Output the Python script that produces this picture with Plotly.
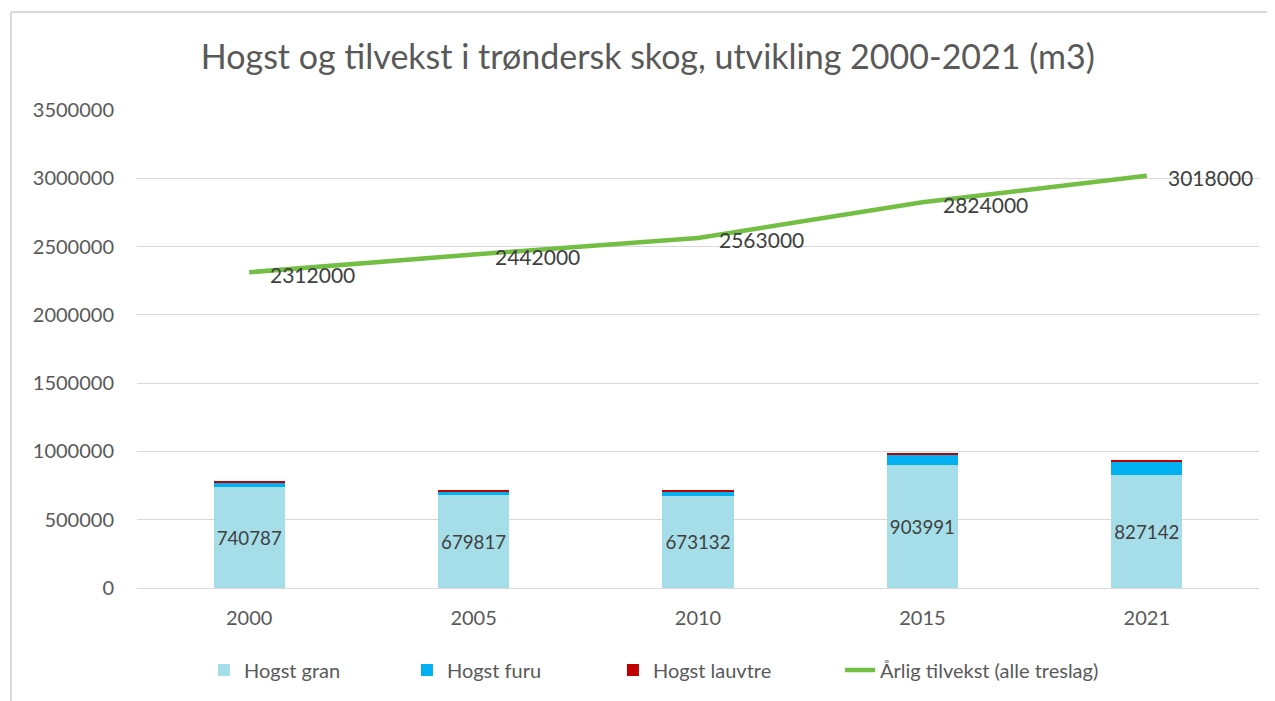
import plotly.graph_objects as go

years = ["2000", "2005", "2010", "2015", "2021"]
hogst_gran = [740787, 679817, 673132, 903991, 827142]
hogst_furu = [29000, 25000, 32000, 71000, 97000]
hogst_lauvtre = [15000, 12000, 12000, 14000, 12000]
tilvekst = [2312000, 2442000, 2563000, 2824000, 3018000]

FONT = "Lato"
TXT = "#595959"

fig = go.Figure()
fig.add_trace(go.Bar(x=years, y=hogst_gran, name="Hogst gran", marker_color="#A5DEE9",
                     marker_line_width=0, text=[str(v) for v in hogst_gran],
                     textposition="inside", insidetextanchor="middle", legend="legend",
                     textfont=dict(family=FONT, size=22, color="#404040"), textangle=0))
fig.add_trace(go.Bar(x=years, y=hogst_furu, name="Hogst furu", marker_color="#00B0F0",
                     marker_line_width=0, legend="legend2"))
fig.add_trace(go.Bar(x=years, y=hogst_lauvtre, name="Hogst lauvtre", marker_color="#C00000",
                     marker_line_width=0, legend="legend3"))
fig.add_trace(go.Scatter(x=years, y=tilvekst, name="Årlig tilvekst (alle treslag)", mode="lines",
                         line=dict(color="#72BF44", width=4.5), legend="legend4"))

for i, y in enumerate(tilvekst):
    fig.add_annotation(x=i, y=y, text=str(y), showarrow=False, xanchor="left", yanchor="middle",
                       xshift=19, yshift=-2, font=dict(family=FONT, size=21, color="#404040"))

# chart border (top and left edges visible)
fig.add_shape(type="line", xref="paper", yref="paper", x0=-0.1123, x1=1.03, y0=1.205, y1=1.205,
              line=dict(color="#D9D9D9", width=2))
fig.add_shape(type="line", xref="paper", yref="paper", x0=-0.1123, x1=-0.1123, y0=1.205, y1=-0.25,
              line=dict(color="#D9D9D9", width=2))

leg_common = dict(orientation="h", xanchor="left", y=-0.1715, yanchor="middle",
                  bgcolor="rgba(0,0,0,0)", font=dict(family=FONT, size=20, color=TXT))

fig.update_layout(
    width=1267, height=693,
    barmode="stack", bargap=0.683,
    paper_bgcolor="white", plot_bgcolor="white",
    margin=dict(l=129, r=16, t=102, b=113),
    font=dict(family=FONT, color=TXT, size=20),
    title=dict(text="Hogst og tilvekst i trøndersk skog, utvikling 2000-2021 (m3)",
               x=0.505, xanchor="center", y=1 - 49 / 693, yanchor="middle",
               font=dict(family=FONT, size=34, color=TXT)),
    legend=dict(x=0.0597, **leg_common),
    legend2=dict(x=0.2406, **leg_common),
    legend3=dict(x=0.4242, **leg_common),
    legend4=dict(x=0.6266, **leg_common),
    showlegend=True,
)
fig.update_xaxes(type="category", showgrid=False, showline=True, linecolor="#D9D9D9", linewidth=1,
                 ticks="", ticklabelstandoff=12, tickfont=dict(family=FONT, size=20, color=TXT))
fig.update_yaxes(range=[0, 3500000], dtick=500000, tickformat="d", showgrid=True,
                 gridcolor="#D9D9D9", gridwidth=1, zeroline=False, ticks="",
                 ticklabelstandoff=22, tickfont=dict(family=FONT, size=20, color=TXT))

fig.write_html("out.html")
